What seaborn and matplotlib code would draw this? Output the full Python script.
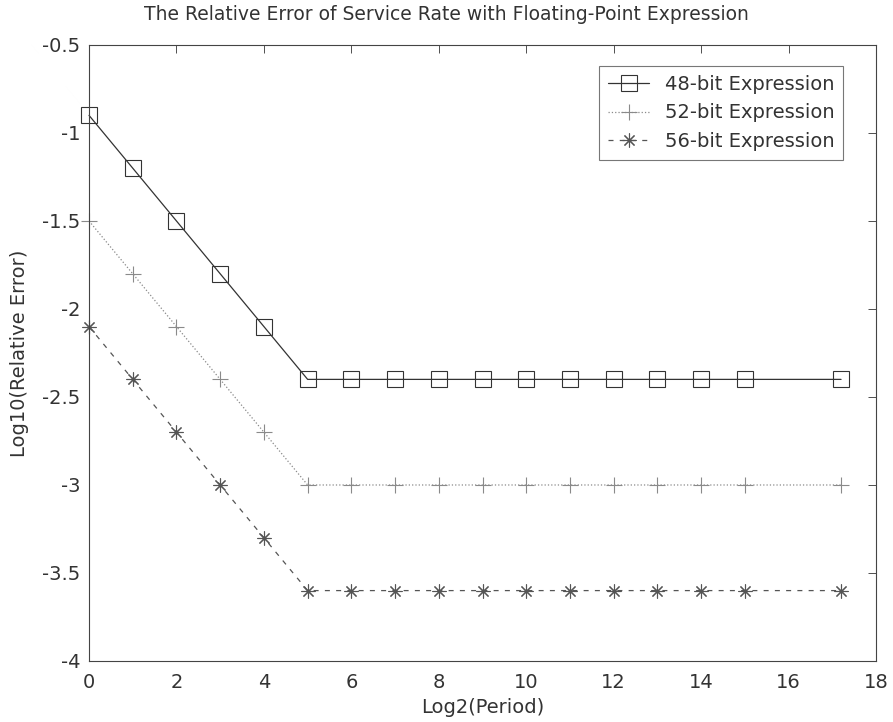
import numpy as np
import pandas as pd
import seaborn as sns
import matplotlib
matplotlib.use("Agg")
import matplotlib.pyplot as plt
from matplotlib.ticker import FormatStrFormatter

# valores
periods = [0, 1, 2, 3, 4, 5, 6, 7, 8, 9, 10, 11, 12, 13, 14, 15, 17.2]
err_48 = [-0.9, -1.2, -1.5, -1.8, -2.1, -2.4, -2.4, -2.4, -2.4, -2.4, -2.4, -2.4, -2.4, -2.4, -2.4, -2.4, -2.4]
err_52 = [-1.5, -1.8, -2.1, -2.4, -2.7, -3.0, -3.0, -3.0, -3.0, -3.0, -3.0, -3.0, -3.0, -3.0, -3.0, -3.0, -3.0]
err_56 = [-2.1, -2.4, -2.7, -3.0, -3.3, -3.6, -3.6, -3.6, -3.6, -3.6, -3.6, -3.6, -3.6, -3.6, -3.6, -3.6, -3.6]
labels = ["48-bit Expression", "52-bit Expression", "56-bit Expression"]

x_ticks = [0, 2, 4, 6, 8, 10, 12, 14, 16, 18]
y_ticks = [-4, -3.5, -3, -2.5, -2, -1.5, -1, -0.5]

sns.set_style("white")
plt.rcParams['font.family'] = ['DejaVu Sans']

fig = plt.figure(figsize=(8.93, 7.22), dpi=100)
ax = fig.add_axes([0.0997, 0.0845, 0.8813, 0.8532])

df = pd.DataFrame({'period': periods, '48': err_48, '52': err_52, '56': err_56})

# (columna, etiqueta, estilo de linea, marcador, color, tamano)
styles = [
    ('48', labels[0], '-', 's', '#333333', 11),
    ('52', labels[1], ':', '+', '#8a8a8a', 11),
    ('56', labels[2], (0, (4, 5)), (8, 2, 0), '#555555', 10),
]
for col, lab, ls, mk, c, ms in styles:
    sns.lineplot(x='period', y=col, data=df, ax=ax, label=lab, color=c,
                 linestyle=ls, linewidth=0.9, marker=mk, markersize=ms,
                 markerfacecolor='none', markeredgecolor=c, markeredgewidth=0.8,
                 clip_on=False)

ax.set_xlim(0, 18)
ax.set_ylim(-4, -0.5)
ax.set_xticks(x_ticks)
ax.set_yticks(y_ticks)
ax.yaxis.set_major_formatter(FormatStrFormatter('%g'))
ax.tick_params(direction='in', top=True, right=True, length=6, width=0.6,
               labelsize=14, colors='#333333')
ax.tick_params(axis='y', pad=6.5)
ax.tick_params(axis='x', pad=9)
for sp in ax.spines.values():
    sp.set_linewidth(0.8)
    sp.set_color('#444444')

# el titulo va centrado sobre la figura, no sobre los ejes
ax.set_title('The Relative Error of Service Rate with Floating-Point Expression',
             fontsize=13.5, color='#333333', pad=18, x=0.4536)
ax.set_xlabel('Log2(Period)', fontsize=14, color='#333333', labelpad=4)
ax.set_ylabel('Log10(Relative Error)', fontsize=14, color='#333333', labelpad=9)

leg = ax.legend(loc='upper right', bbox_to_anchor=(0.958, 0.966), borderaxespad=0,
                fontsize=14, frameon=True, fancybox=False, edgecolor='#555555',
                handlelength=2.1, handletextpad=0.8, borderpad=0.45,
                labelspacing=0.5)
leg.get_frame().set_linewidth(0.8)
for t in leg.get_texts():
    t.set_color('#333333')

fig.savefig('out.png', dpi=100)
